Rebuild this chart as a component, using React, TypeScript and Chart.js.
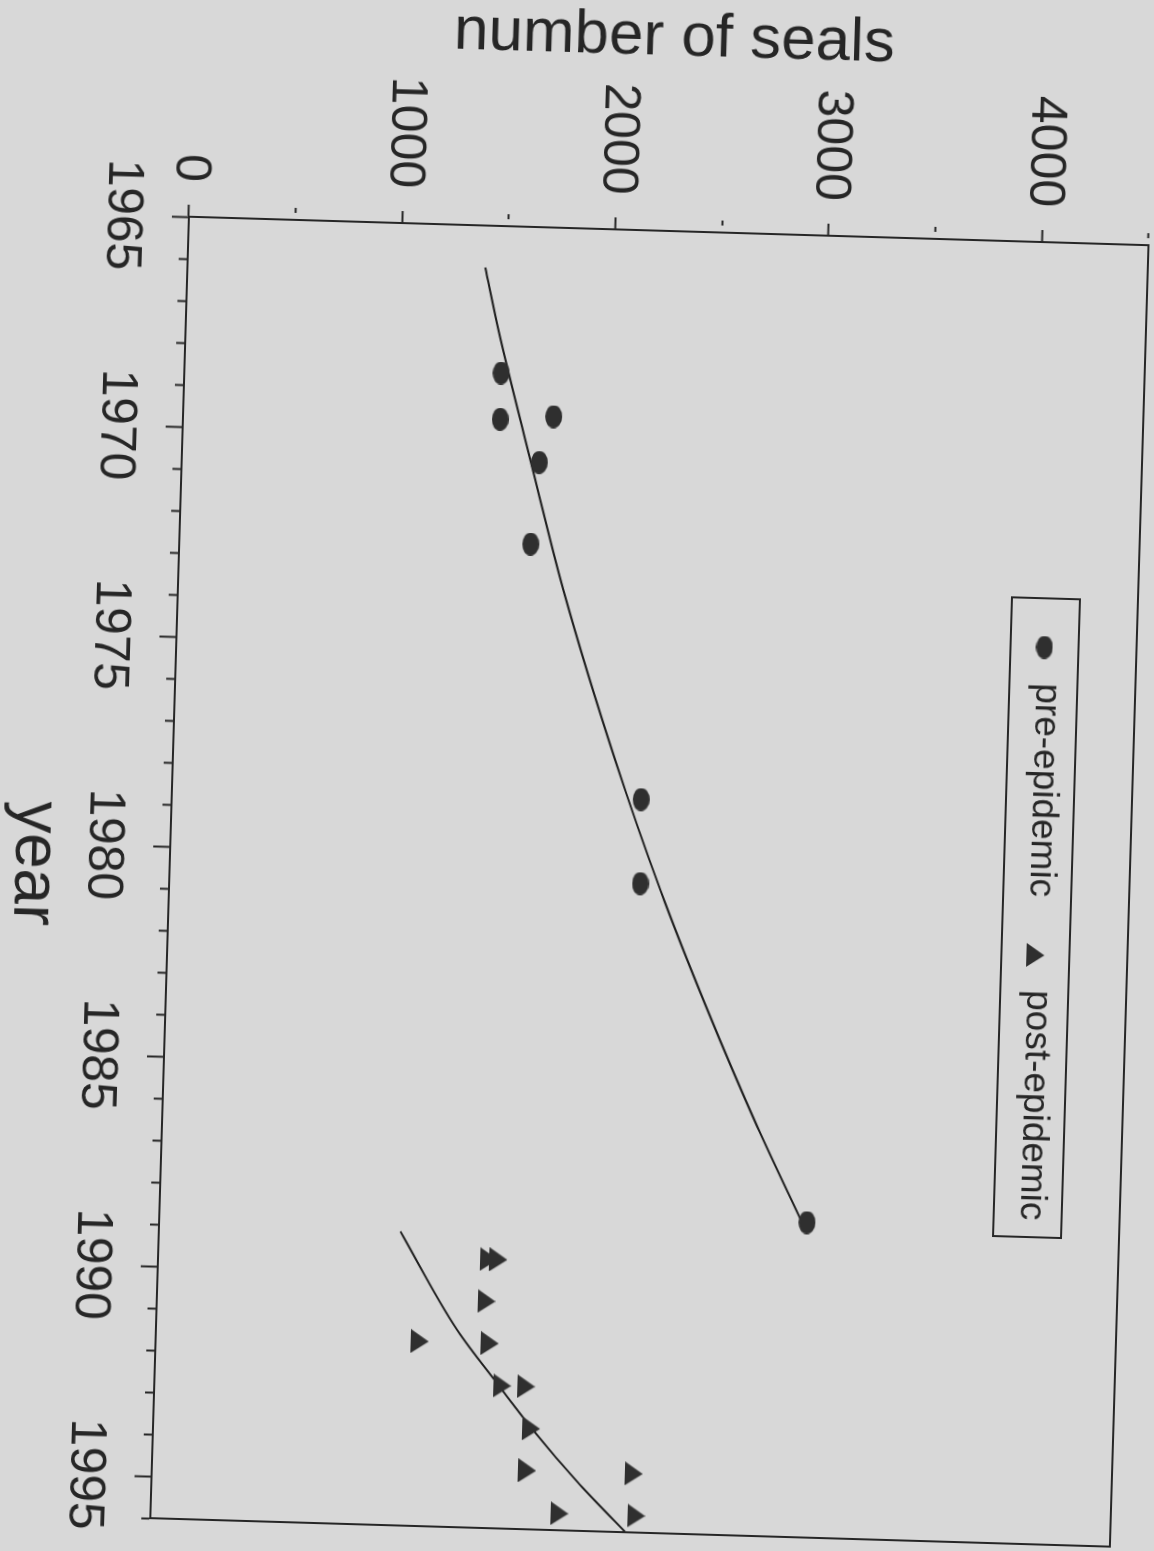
import { useEffect, useRef } from "react";
import { Chart, registerables } from "chart.js";

Chart.register(...registerables);

// ---- data (year, number of seals) ----
const preYears = [1968.5, 1969.6, 1969.5, 1970.6, 1972.55, 1978.55, 1980.55, 1988.5];
const preSeals = [1485, 1487, 1737, 1676, 1647, 2200, 2208, 3036];

const postYears = [1989.6, 1989.6, 1990.6, 1991.6, 1991.6, 1992.6, 1992.6, 1993.6, 1994.6, 1994.6, 1995.6, 1995.6];
const postSeals = [1550, 1595, 1545, 1238, 1566, 1630, 1742, 1772, 1759, 2259, 1916, 2276];

const preFitYears = [1966.0, 1967.5, 1970.55, 1973.65, 1977.65, 1980.7, 1983.4, 1986.25, 1988.5];
const preFitSeals = [1396, 1467, 1634, 1808, 2074, 2303, 2530, 2789, 3012];

const postFitYears = [1989.0, 1991.3, 1992.6, 1993.6, 1994.9, 1996.0];
const postFitSeals = [1132, 1411, 1615, 1775, 2008, 2228];

const seriesLabels = ["pre-epidemic", "post-epidemic"];
const axisTitles = { x: "year", y: "number of seals" };

const FONT = '"Liberation Sans", Arial, Helvetica, sans-serif';
const INK = "#262626";
const MARK = "#2f2f2f";
const BG = "#d8d8d8";

function makeEllipse(w: number, h: number, color: string) {
  const c = document.createElement("canvas");
  c.width = w;
  c.height = h;
  const g = c.getContext("2d")!;
  g.fillStyle = color;
  g.beginPath();
  g.ellipse(w / 2, h / 2, w / 2, h / 2, 0, 0, Math.PI * 2);
  g.fill();
  return c;
}

function makeTriangle(w: number, h: number, color: string) {
  const c = document.createElement("canvas");
  c.width = w;
  c.height = h;
  const g = c.getContext("2d")!;
  g.fillStyle = color;
  g.beginPath();
  g.moveTo(w / 2, 0);
  g.lineTo(w, h);
  g.lineTo(0, h);
  g.closePath();
  g.fill();
  return c;
}

const framePlugin = {
  id: "frameBox",
  afterDraw(chart: any) {
    const { ctx, chartArea } = chart;
    ctx.save();
    ctx.strokeStyle = INK;
    ctx.lineWidth = 2;
    ctx.strokeRect(chartArea.left, chartArea.top, chartArea.right - chartArea.left, chartArea.bottom - chartArea.top);
    ctx.restore();
  },
};

const boxLegendPlugin = {
  id: "boxLegend",
  afterDraw(chart: any) {
    const { ctx, chartArea } = chart;
    const x0 = chartArea.left + 356;
    const y0 = chartArea.top + 58;
    const w = 639;
    const h = 68;
    const cy = y0 + h / 2;
    ctx.save();
    ctx.strokeStyle = INK;
    ctx.lineWidth = 2;
    ctx.strokeRect(x0, y0, w, h);
    ctx.font = `37px ${FONT}`;
    ctx.fillStyle = INK;
    ctx.textBaseline = "middle";
    ctx.textAlign = "left";
    const items = [
      { ds: chart.data.datasets[0], mx: 49, tx: 85 },
      { ds: chart.data.datasets[1], mx: 357, tx: 392 },
    ];
    for (const it of items) {
      const img = it.ds.pointStyle as HTMLCanvasElement;
      ctx.drawImage(img, x0 + it.mx - img.width / 2, cy - img.height / 2);
      ctx.fillText(it.ds.label, x0 + it.tx, cy - 3);
    }
    ctx.restore();
  },
};

export default function App() {
  const ref = useRef<HTMLCanvasElement>(null);

  useEffect(() => {
    const circle = makeEllipse(23, 17, MARK);
    const tri = makeTriangle(24, 18, MARK);

    const chart = new Chart(ref.current!, {
      type: "scatter",
      data: {
        datasets: [
          {
            label: seriesLabels[0],
            data: preYears.map((x, i) => ({ x, y: preSeals[i] })),
            pointStyle: circle as any,
            pointRadius: 10,
            order: 0,
          },
          {
            label: seriesLabels[1],
            data: postYears.map((x, i) => ({ x, y: postSeals[i] })),
            pointStyle: tri as any,
            pointRadius: 10,
            order: 0,
          },
          {
            label: "pre-epidemic fit",
            data: preFitYears.map((x, i) => ({ x, y: preFitSeals[i] })),
            showLine: true,
            pointRadius: 0,
            borderColor: "#1e1e1e",
            borderWidth: 2,
            cubicInterpolationMode: "monotone",
            order: 1,
          },
          {
            label: "post-epidemic fit",
            data: postFitYears.map((x, i) => ({ x, y: postFitSeals[i] })),
            showLine: true,
            pointRadius: 0,
            borderColor: "#1e1e1e",
            borderWidth: 2,
            cubicInterpolationMode: "monotone",
            order: 1,
          },
        ] as any,
      },
      options: {
        animation: false,
        responsive: false,
        events: [],
        layout: { padding: { top: 22, right: 21, bottom: 0, left: 0 } },
        plugins: {
          legend: { display: false },
          tooltip: { enabled: false },
        },
        scales: {
          x: {
            type: "linear",
            position: "bottom",
            min: 1965,
            max: 1996,
            afterFit: (s: any) => {
              s.height = 172;
              s.paddingLeft = 0;
              s.paddingRight = 0;
            },
            border: { display: true, color: INK, width: 2 },
            grid: {
              drawOnChartArea: false,
              drawTicks: true,
              tickLength: 17,
              tickWidth: 2,
              tickColor: INK,
              tickBorderDash: (c: any) => (c.tick && c.tick.value % 5 === 0 ? [] : [8, 100]),
            },
            ticks: {
              stepSize: 1,
              autoSkip: false,
              maxRotation: 0,
              minRotation: 0,
              padding: 20,
              color: INK,
              font: { family: FONT, size: 50 },
              callback: (v: any) => (Number(v) % 5 === 0 ? String(v) : ""),
            },
            title: {
              display: true,
              text: axisTitles.x,
              color: INK,
              font: { family: FONT, size: 64, lineHeight: 1 },
              padding: { top: 0, bottom: 4 },
            },
          },
          y: {
            type: "linear",
            position: "left",
            min: 0,
            max: 4500,
            afterFit: (s: any) => {
              s.width = 228;
              s.paddingTop = 0;
              s.paddingBottom = 0;
            },
            border: { display: true, color: INK, width: 2 },
            grid: {
              drawOnChartArea: false,
              drawTicks: true,
              tickLength: 12,
              tickWidth: 2,
              tickColor: INK,
              tickBorderDash: (c: any) => (c.tick && c.tick.value % 1000 === 0 ? [] : [5, 100]),
            },
            ticks: {
              stepSize: 500,
              autoSkip: false,
              padding: 23,
              color: INK,
              font: { family: FONT, size: 50 },
              callback: (v: any) => (Number(v) % 1000 === 0 ? String(v) : ""),
            },
            title: {
              display: true,
              text: axisTitles.y,
              color: INK,
              font: { family: FONT, size: 62, lineHeight: 1 },
              padding: { top: 4, bottom: 0 },
            },
          },
        },
      },
      plugins: [framePlugin, boxLegendPlugin],
    });
    return () => chart.destroy();
  }, []);

  return (
    <div
      style={{
        position: "fixed",
        left: 0,
        top: 0,
        width: 1154,
        height: 1551,
        background: BG,
        overflow: "hidden",
      }}
    >
      <div
        style={{
          position: "absolute",
          left: -198.5,
          top: 198.5,
          width: 1551,
          height: 1154,
          transform: "rotate(91.7deg)",
          transformOrigin: "50% 50%",
        }}
      >
        <canvas ref={ref} width={1551} height={1154} style={{ display: "block", width: 1551, height: 1154 }} />
      </div>
    </div>
  );
}
